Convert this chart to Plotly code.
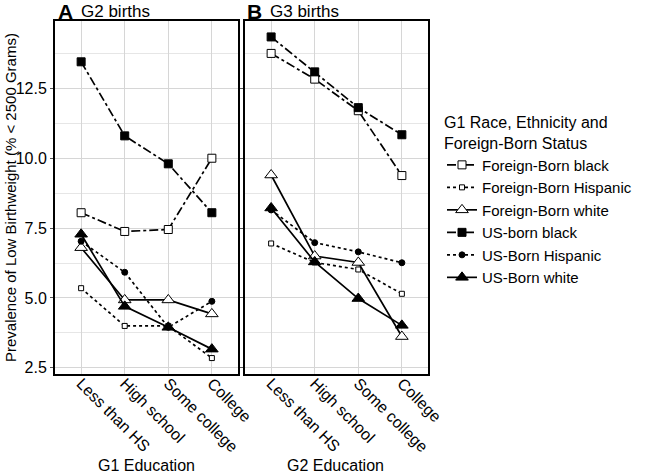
import plotly.graph_objects as go

categories = ["Less than HS", "High school", "Some college", "College"]
groups = ["Foreign-Born black", "Foreign-Born Hispanic", "Foreign-Born white",
          "US-born black", "US-Born Hispanic", "US-Born white"]

# Panel A: G2 births by G1 education
g2_fb_black = [8.05, 7.38, 7.45, 10.0]
g2_fb_hisp = [5.35, 4.0, 4.0, 2.85]
g2_fb_white = [6.8, 4.93, 4.93, 4.43]
g2_us_black = [13.45, 10.8, 9.8, 8.05]
g2_us_hisp = [7.03, 5.92, 3.95, 4.88]
g2_us_white = [7.28, 4.7, 3.95, 3.17]

# Panel B: G3 births by G2 education
g3_fb_black = [13.75, 12.83, 11.7, 9.38]
g3_fb_hisp = [6.95, 6.27, 6.02, 5.15]
g3_fb_white = [9.4, 6.5, 6.27, 3.62]
g3_us_black = [14.34, 13.09, 11.81, 10.84]
g3_us_hisp = [8.15, 6.98, 6.65, 6.26]
g3_us_white = [8.22, 6.29, 4.98, 4.02]

panelA = [g2_fb_black, g2_fb_hisp, g2_fb_white, g2_us_black, g2_us_hisp, g2_us_white]
panelB = [g3_fb_black, g3_fb_hisp, g3_fb_white, g3_us_black, g3_us_hisp, g3_us_white]

styles = [
    dict(dash="dashdot", symbol="square", fill="white", size=8),
    dict(dash="dot", symbol="square", fill="white", size=5),
    dict(dash="solid", symbol="triangle-up", fill="white", size=11),
    dict(dash="dashdot", symbol="square", fill="black", size=8),
    dict(dash="dot", symbol="circle", fill="black", size=6),
    dict(dash="solid", symbol="triangle-up", fill="black", size=11),
]

FONT = "Liberation Sans, Arial, sans-serif"
fig = go.Figure()

for panel, (xa, ya, show) in zip([panelA, panelB], [("x", "y", True), ("x2", "y2", False)]):
    for name, vals, st in zip(groups, panel, styles):
        fig.add_trace(go.Scatter(
            x=categories, y=vals, name=name, mode="lines+markers",
            xaxis=xa, yaxis=ya, showlegend=show,
            line=dict(color="black", width=1.7, dash=st["dash"]),
            marker=dict(symbol=st["symbol"], size=st["size"], color=st["fill"],
                        line=dict(color="black", width=1)),
        ))

W, H = 666, 474
xdomA = [55 / W, 238 / W]
xdomB = [245 / W, 428 / W]
ydom = [1 - 374 / H, 1 - 21 / H]
yrange = [2.28, 14.91]

common_x = dict(
    type="category", range=[-0.6, 3.6], showgrid=True, gridcolor="#d6d6d6", gridwidth=1,
    showline=True, mirror=True, linecolor="black", linewidth=2,
    tickangle=45, tickfont=dict(size=16, color="black", family=FONT),
    ticks="", ticklabelstandoff=-8,
    zeroline=False, fixedrange=True, automargin=False,
)
common_y = dict(
    range=yrange, tickmode="linear", tick0=2.5, dtick=2.5, tickformat=".1f",
    showgrid=True, gridcolor="#d6d6d6", gridwidth=1,
    minor=dict(dtick=1.25, tick0=2.5, showgrid=True, gridcolor="#e6e6e6", gridwidth=1),
    showline=True, mirror=True, linecolor="black", linewidth=2,
    tickfont=dict(size=16, color="black", family=FONT),
    ticks="outside", ticklen=3, tickcolor="#555555",
    zeroline=False, automargin=False, fixedrange=True,
)


def ann(text, x, y, size, angle=0, xanchor="center"):
    return dict(text=text, x=x / W, y=1 - y / H, xref="paper", yref="paper",
                xanchor=xanchor, yanchor="middle", showarrow=False,
                textangle=angle, font=dict(size=size, color="black", family=FONT))


fig.update_layout(
    width=W, height=H,
    margin=dict(l=0, r=0, t=0, b=0, autoexpand=False),
    paper_bgcolor="white", plot_bgcolor="white",
    font=dict(family=FONT, size=16, color="black"),
    xaxis=dict(domain=xdomA, anchor="y", **common_x),
    xaxis2=dict(domain=xdomB, anchor="y2", **common_x),
    yaxis=dict(domain=ydom, anchor="x", **common_y),
    yaxis2=dict(domain=ydom, anchor="x2", showticklabels=False, **common_y),
    legend=dict(
        x=442 / W, y=1 - 107 / H, xanchor="left", yanchor="top",
        title=dict(text="G1 Race, Ethnicity and<br>Foreign-Born Status", font=dict(size=16)),
        font=dict(size=15), tracegroupgap=0, itemwidth=30,
        bgcolor="rgba(0,0,0,0)",
    ),
    annotations=[
        ann("<b>A</b>", 56, 11, 21, xanchor="left"),
        ann("G2 births", 79, 11, 17, xanchor="left"),
        ann("<b>B</b>", 245, 11, 21, xanchor="left"),
        ann("G3 births", 268, 11, 17, xanchor="left"),
        ann("G1 Education", 146, 465, 16),
        ann("G2 Education", 336, 465, 16),
        ann("Prevalence of Low Birthweight (% < 2500 Grams)", 10, 198, 15, angle=-90),
    ],
)

fig.write_html("out.html", config={"displayModeBar": False},
               post_script="document.body.style.margin='0';")
